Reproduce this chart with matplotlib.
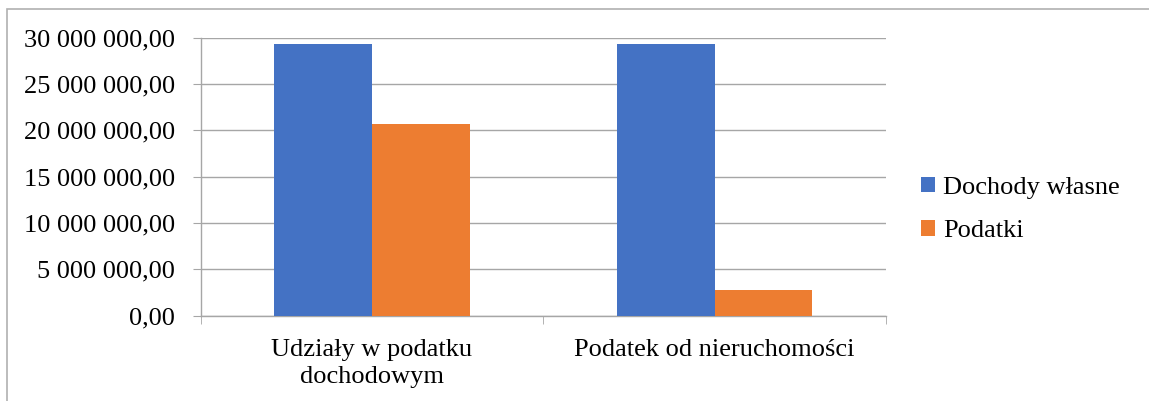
import matplotlib.pyplot as plt
from matplotlib.ticker import FuncFormatter, MultipleLocator
from matplotlib.patches import Rectangle

kategorie = ['Udziały w podatku\ndochodowym', 'Podatek od nieruchomości']
dochody_wlasne = [29290000, 29290000]
podatki = [20710000, 2750000]
serie = ['Dochody własne', 'Podatki']
kolory = ['#4472C4', '#ED7D31']

plt.rcParams['font.family'] = ['Liberation Serif', 'DejaVu Serif']

fig = plt.figure(figsize=(11.49, 4.01), dpi=100)
W, H = 1149, 401
ax = fig.add_axes([200.7 / W, 1 - 315.5 / H, (886 - 200.7) / W, (315.5 - 37.7) / H])

x = list(range(len(kategorie)))
szer = 0.285
ax.bar([i - szer / 2 for i in x], dochody_wlasne, szer, color=kolory[0], label=serie[0], zorder=3)
ax.bar([i + szer / 2 for i in x], podatki, szer, color=kolory[1], label=serie[1], zorder=3)

ax.set_xlim(-0.5, len(kategorie) - 0.5)
ax.set_ylim(0, 30000000)
ax.yaxis.set_major_locator(MultipleLocator(5000000))


def fmt(v, pos):
    s = f'{v:,.2f}'
    return s.replace(',', ' ').replace('.', ',')


ax.yaxis.set_major_formatter(FuncFormatter(fmt))
ax.set_xticks(x)
ax.set_xticklabels(kategorie, linespacing=1.3)
ax.set_xticks([-0.5, 0.5, 1.5], minor=True)

szary = '#a6a6a6'
ax.grid(axis='y', color=szary, linewidth=1, zorder=0)
for s in ['top', 'right']:
    ax.spines[s].set_visible(False)
for s in ['left', 'bottom']:
    ax.spines[s].set_color(szary)
    ax.spines[s].set_linewidth(1)

ax.tick_params(axis='y', length=5.5, color=szary, labelsize=19, pad=13)
ax.tick_params(axis='x', which='major', length=0, labelsize=19, pad=17)
ax.tick_params(axis='x', which='minor', length=5.5, color=szary)

fig.legend(loc='center left', bbox_to_anchor=(921 / W, 1 - 209.5 / H), frameon=False,
           fontsize=19, handlelength=0.53, handleheight=0.53, handletextpad=0.3,
           labelspacing=0.82, borderpad=0, borderaxespad=0)

fig.patches.append(Rectangle((7 / W, -0.1), 1.2, 1 - 9 / H + 0.1, transform=fig.transFigure,
                             fill=False, edgecolor='#b0b0b0', linewidth=1.2))

fig.savefig('out.png', dpi=100)
